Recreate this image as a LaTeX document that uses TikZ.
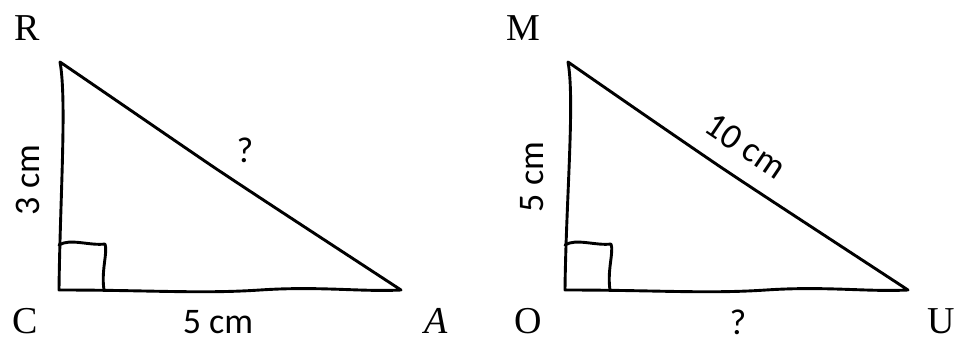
\documentclass[tikz,border=0pt]{standalone}
\usepackage{fontspec}
\setmainfont{Liberation Serif}
\newfontfamily\labfont{Carlito}
\begin{document}
\begin{tikzpicture}[x=1pt,y=-1pt,
  edge/.style={line width=2.9pt,line cap=round,line join=round,black},
  vtx/.style={font=\fontsize{38}{38}\selectfont,inner sep=0pt,anchor=base},
  meas/.style={font=\labfont\fontsize{36}{36}\selectfont,inner sep=0pt}]
\useasboundingbox (0,0) rectangle (963,342);
% left triangle
\coordinate (R) at (60,62);
\coordinate (C) at (59,290);
\coordinate (A) at (401,290);
\draw[edge] (R) .. controls (67,100) and (60,200) .. (C)
  .. controls (150,290) and (200,294) .. (260,290)
  .. controls (320,286) and (360,292) .. (A)
  .. controls (320,237) and (260,198) .. (215,168)
  .. controls (165,134) and (110,96) .. (R);
\draw[edge] (59,245) .. controls (70,238) and (90,246) .. (105,244)
  .. controls (108,252) and (101,270) .. (104,290);
% right triangle
\coordinate (M) at (568,62);
\coordinate (O) at (565,290);
\coordinate (U) at (908,290);
\draw[edge] (M) .. controls (575,100) and (566,200) .. (O)
  .. controls (656,290) and (706,294) .. (766,290)
  .. controls (826,286) and (866,292) .. (U)
  .. controls (827,237) and (767,198) .. (722,168)
  .. controls (672,134) and (617,96) .. (M);
\draw[edge] (565,245) .. controls (576,238) and (596,246) .. (611,244)
  .. controls (614,252) and (607,270) .. (610,290);
% vertex labels
\node[vtx] (lR) at (27,41) {R};
\node[vtx] (lC) at (25,333) {C};
\node[vtx] (lA) at (436,333) {\itshape A};
\node[vtx] (lM) at (523,41) {M};
\node[vtx] (lO) at (528,333) {O};
\node[vtx] (lU) at (941,333) {U};
% measures
\node[meas,rotate=90] (m1) at (28,180) {3 cm};
\node[meas] (m2) at (218,322) {5 cm};
\node[meas] (m3) at (245,150) {?};
\node[meas,rotate=90] (m4) at (532,177) {5 cm};
\node[meas,rotate=-34] (m5) at (746,146) {10 cm};
\node[meas] (m6) at (738,322) {?};
\end{tikzpicture}
\end{document}
